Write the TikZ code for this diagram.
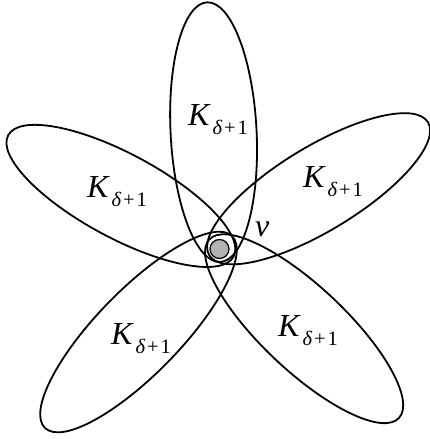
\documentclass[tikz,border=0pt]{standalone}
\usepackage{fontspec}
\setmainfont{Liberation Serif}
\newcommand{\Klab}{{\fontsize{32}{32}\selectfont\itshape K}\kern3pt\raisebox{-8.5pt}{\fontsize{20.5}{20.5}\selectfont\itshape δ\upshape\kern2pt+\kern2pt1}}
\begin{document}
\begin{tikzpicture}[x=1pt,y=1pt,
  petal/.style={line width=1.8pt},
  lab/.style={anchor=base west,inner sep=0pt}]
\useasboundingbox (0,0) rectangle (430,439);
\coordinate (V) at (219.5,190);
% petals: angle, far length L, overshoot d, semi-minor b
\foreach \ang/\L/\b/\d in {92.9/247/43/13, 151.7/240/42/16, 31.3/244/42/12, 225.7/250/42/18, -43.3/246.5/42/14}{
  \pgfmathsetmacro{\cx}{(\L-\d)/2}
  \pgfmathsetmacro{\ra}{(\L+\d)/2}
  \draw[petal,shift={(V)},rotate=\ang] (\cx,0) ellipse [x radius=\ra, y radius=\b];
}
\node[circle,draw,line width=1.2pt,fill=black!30,minimum size=19pt,inner sep=0pt] (v0) at (V) {};
\node[lab] (kt) at (188,{439-126}) {\Klab};
\node[lab] (kul) at (87,{439-198}) {\Klab};
\node[lab] (kur) at (303,{439-188}) {\Klab};
\node[lab] (kll) at (111,{439-345}) {\Klab};
\node[lab] (klr) at (278,{439-337}) {\Klab};
\node[lab] (vl) at (255,{439-237}) {\fontsize{32}{32}\selectfont\itshape v};
\end{tikzpicture}
\end{document}
